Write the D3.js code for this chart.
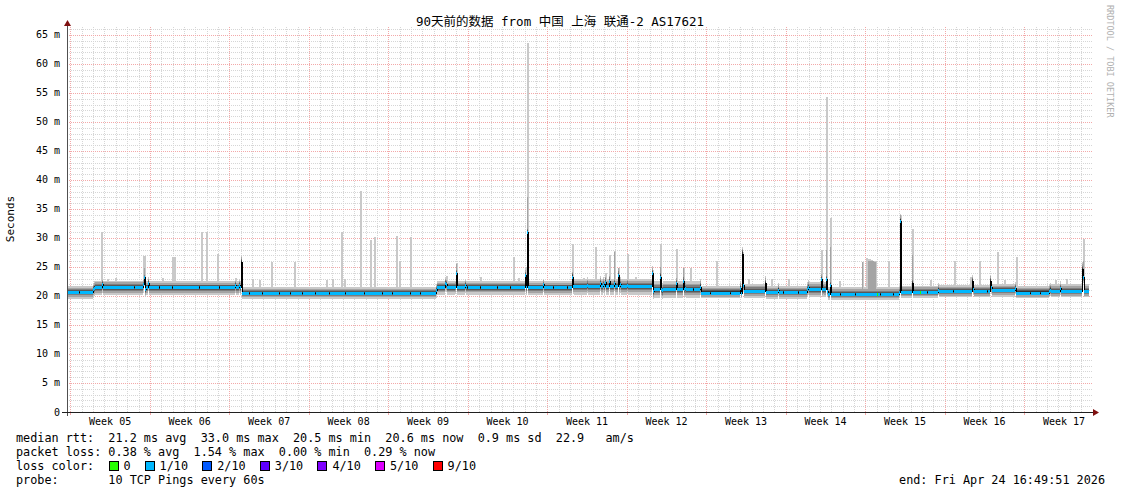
<!DOCTYPE html>
<html><head><meta charset="utf-8">
<script src="https://cdn.jsdelivr.net/npm/d3@7"></script>
<style>
body{margin:0;background:#fff}
svg{display:block}
text{font-family:"DejaVu Sans Mono","Noto Sans CJK SC",monospace;white-space:pre}
</style>
</head><body>
<svg id="c" width="1121" height="494"></svg>
<script>
// ---------------- DATA ----------------
const titleText = "90天前的数据 from 中国 上海 联通-2 AS17621";
const endText = "end: Fri Apr 24 16:49:51 2026";
const yTickValues = [0,5,10,15,20,25,30,35,40,45,50,55,60,65];
const yTickLabels = ["0","5 m","10 m","15 m","20 m","25 m","30 m","35 m","40 m","45 m","50 m","55 m","60 m","65 m"];
const weekLabels = ["Week 05","Week 06","Week 07","Week 08","Week 09","Week 10","Week 11","Week 12","Week 13","Week 14","Week 15","Week 16","Week 17"];
const rttStats = ["21.2","33.0","20.5","20.6","0.9","22.9"];
const lossStats = ["0.38","1.54","0.00","0.29"];
const lossLabels = ["0","1/10","2/10","3/10","4/10","5/10","9/10"];
const lossColors = ["#26ff00","#00b8ff","#0059ff","#5e00ff","#7e00ff","#dd00ff","#ff0000"];
const probeText = "10 TCP Pings every 60s";

// median RTT baseline segments (day offsets from start, ms)
const segEnd = [2.29,6.72,15.30,32.49,40.40,44.45,51.55,55.80,59.45,61.50,65.20,66.95,73.30,76.75,81.30,83.45,86.50,90];
const segMed = [20.74,21.6,21.5,20.5,21.55,21.5,21.65,21.2,20.6,20.9,20.65,21.15,20.35,20.7,20.85,21.0,20.6,20.85];
const segHi  = [1.0,1.05,1.0,1.1,1.05,1.0,1.3,1.3,1.1,1.2,1.1,1.3,1.2,1.1,1.1,1.1,1.1,1.2];
const segLo  = [1.25,1.5,1.4,1.05,1.3,1.3,1.4,1.5,1.0,1.2,1.1,1.3,1.0,1.0,1.1,1.1,1.0,1.1];

// median events (day, ms, loss bucket: 1 = 1/10, 0 = none lost, -1 = not coloured)
const evDay = [2.29,2.38,3.08,6.69,6.78,6.87,7.13,14.79,15.14,15.32,32.49,33.28,33.37,34.16,34.25,35.05,40.33,40.50,41.91,44.47,44.55,45.79,46.93,47.19,47.37,47.72,48.16,48.51,48.69,49.31,51.51,51.60,52.22,52.40,53.63,54.24,54.40,55.74,59.26,59.43,59.52,61.46,62.60,65.25,66.39,66.56,66.80,66.92,67.18,73.35,74.40,76.69,79.69,79.78,81.24,81.33,83.47,86.55,87.44,89.37,89.46];
const evMed = [21.2,21.45,22.0,22.0,23.2,21.2,22.2,21.9,21.9,25.9,21.0,22.2,22.0,21.6,23.9,21.9,23.6,31.0,22.0,23.3,21.7,21.9,22.2,22.0,22.4,22.6,22.2,23.6,22.0,21.9,23.9,20.9,23.3,21.0,22.2,22.6,21.3,21.6,21.4,27.3,21.9,22.3,21.1,21.5,22.9,21.2,22.9,20.9,21.9,33.0,22.2,21.1,22.5,21.2,22.6,21.5,21.3,21.1,21.3,24.6,23.3];
const evLoss = [1,1,1,1,1,1,1,1,1,-1,1,1,1,1,1,1,1,1,1,1,1,1,1,1,1,1,1,1,1,1,1,1,1,1,1,1,1,1,1,-1,1,-1,1,1,1,1,1,1,1,1,-1,1,-1,1,-1,1,1,1,1,-1,1];

// intervals where the median is drawn without a loss colour
const gapDay = [1.03,5.87,8.07,9.25,11.60,13.36,16.0,17.17,18.64,19.66,20.69,21.86,23.04,24.50,26.12,27.74,28.62,30.20,31.08,35.19,36.36,37.84,39.01,42.82,44.0,55.15,56.62,58.38,63.07,64.39,68.06,69.38,71.58,72.76,75.70,78.04,80.98,84.79,85.67];
// intervals with zero loss
const greenDay = [71.32,75.11];

// max-ping spikes (day, top of lightest smoke, top of second smoke band; 0 = normal)
const maxDay = [2.99,3.5,4.2,6.69,6.78,8.4,9.25,9.34,9.43,11.80,12.24,13.21,14.8,16.3,16.9,17.96,19.99,22.8,23.3,24.13,24.4,25.80,26.68,27.01,28.97,29.23,30.20,33.37,34.25,36.37,39.27,39.71,40.33,40.50,44.47,45.43,46.49,47.37,47.72,48.16,48.51,49.31,50.0,51.51,52.22,53.63,54.24,54.86,57.15,59.43,60.0,62.0,63.5,66.39,66.80,67.18,68.0,70.00,70.35,70.44,70.53,70.62,70.71,70.80,70.89,70.98,71.07,71.16,72.29,73.35,74.40,76.0,78.10,79.5,80.30,81.89,82.5,83.56,87.0,88.0,89.46];
const maxTop = [31.1,23.0,23.1,26.9,26.9,23.1,26.8,26.8,26.8,31.1,31.1,27.2,23.1,22.9,22.8,25.9,25.9,22.8,22.9,31.0,22.9,38.1,29.7,30.1,30.3,26.0,30.1,23.5,25.7,23.2,26.8,23.1,25.0,63.6,28.9,23.1,28.5,24.0,27.1,27.8,24.8,27.2,23.3,24.5,28.9,28.1,24.8,24.8,26.1,27.6,23.0,23.0,22.9,27.9,54.3,33.4,22.6,25.9,26.5,26.4,26.3,26.3,26.2,26.2,26.1,26.1,26.0,26.0,26.0,34.0,31.6,22.7,26.1,23.3,26.0,27.6,22.8,26.8,22.8,22.9,29.9];
const maxMid = [0,0,0,0,24.8,0,0,0,0,0,0,0,0,0,0,0,0,0,0,0,0,0,0,0,0,0,0,0,25.5,0,0,0,24.5,37.0,24.0,0,0,23.3,0,27.6,24.8,0,0,24.3,25.0,0,24.8,0,0,27.4,0,0,0,0,27.9,28.5,0,25.9,0,0,26.0,26.0,26.0,26.0,26.0,26.0,25.9,25.9,0,34.0,27.1,0,0,0,0,0,0,0,0,0,26.0];

// ---------------- CHART ----------------
const startMs = Date.UTC(2026,0,24,16,49,51);
const spanDays = 90;
const endMs = startMs + spanDays*864e5;
const X0 = 67, X1 = 1089, Y0 = 412, YT = 26;
const x = d3.scaleUtc().domain([new Date(startMs), new Date(endMs)]).range([X0, X1]);
const y = d3.scaleLinear().domain([0, 66.55]).range([Y0, YT]);
const svg = d3.select('#c');

// grid
const grid = svg.append('g').attr('shape-rendering','crispEdges');
const minorY = d3.range(1, 67).filter(v => v % 5 !== 0);
const majorY = yTickValues.filter(v => v > 0);
const days = d3.utcDay.range(new Date(startMs), new Date(endMs));
const sundays = d3.utcSunday.range(new Date(startMs), new Date(endMs));
const isSunday = d => d.getUTCDay() === 0;
const px = v => Math.round(v) + 0.5;
const minorCol = '#d6d6d6', majorCol = '#f3a9a9';

grid.selectAll('.hmin').data(minorY).join('line')
  .attr('x1', X0).attr('x2', X1 + 4).attr('y1', d => px(y(d))).attr('y2', d => px(y(d)))
  .attr('stroke', minorCol).attr('stroke-dasharray', '1,1');
grid.selectAll('.vmin').data(days.filter(d => !isSunday(d))).join('line')
  .attr('x1', d => px(x(d))).attr('x2', d => px(x(d))).attr('y1', Y0).attr('y2', YT)
  .attr('stroke', minorCol).attr('stroke-dasharray', '1,1');
grid.selectAll('.hmaj').data(majorY).join('line')
  .attr('x1', X0).attr('x2', X1 + 4).attr('y1', d => px(y(d))).attr('y2', d => px(y(d)))
  .attr('stroke', majorCol).attr('stroke-dasharray', '1,1');
grid.selectAll('.vmaj').data(sundays).join('line')
  .attr('x1', d => px(x(d))).attr('x2', d => px(x(d))).attr('y1', Y0).attr('y2', YT)
  .attr('stroke', majorCol).attr('stroke-dasharray', '1,1');

// build per-column series from the arrays above
const N = X1 - X0;
const binDays = spanDays / N;
const bins = d3.range(N).map(i => {
  const c = (i + 0.5) * binDays;
  let s = segEnd.findIndex(e => c < e); if (s < 0) s = segEnd.length - 1;
  return {i, med: segMed[s], hi: segHi[s], lo: segLo[s], top: 0, mid: 0, loss: 1};
});
const binOf = d => Math.max(0, Math.min(N - 1, Math.round(d / binDays)));
gapDay.forEach(d => { bins[binOf(d)].loss = -1; });
greenDay.forEach(d => { bins[binOf(d)].loss = 0; });
evDay.forEach((d, k) => { const b = bins[binOf(d)]; b.med = evMed[k]; b.loss = evLoss[k]; });
maxDay.forEach((d, k) => {
  const bi = binOf(d);
  [bi, Math.min(N - 1, bi + 1)].forEach(j => { bins[j].top = Math.max(bins[j].top, maxTop[k]); });
  bins[bi].mid = Math.max(bins[bi].mid, maxMid[k]);
});

const bx = i => x(new Date(startMs + i * binDays * 864e5));
const pts = bins.concat([Object.assign({}, bins[N - 1], {i: N})]);

const shades = ["#c9c9c9","#a4a4a4","#7e7e7e","#585858","#323232"];
const fHi = [1, 0.7, 0.48, 0.32, 0.18];
const fLo = [1, 0.7, 0.5, 0.34, 0.2];
const smoke = svg.append('g').attr('shape-rendering','crispEdges');
shades.forEach((col, k) => {
  const area = d3.area().curve(d3.curveStepAfter)
    .x(d => bx(d.i))
    .y0(d => y(d.med - d.lo * fLo[k]))
    .y1(d => {
      let t = d.med + d.hi * fHi[k];
      if (k === 0 && d.top) t = Math.max(t, d.top);
      if (k === 1 && d.mid) t = Math.max(t, d.mid);
      return y(Math.min(t, 66.55));
    });
  smoke.append('path').datum(pts).attr('d', area).attr('fill', col);
});

// median line
svg.append('path').datum(pts)
  .attr('d', d3.line().curve(d3.curveStepAfter).x(d => bx(d.i)).y(d => Math.round(y(d.med)) + 0.5))
  .attr('fill', 'none').attr('stroke', '#000').attr('stroke-width', 1).attr('shape-rendering','crispEdges');

// loss-coloured median band
svg.append('g').attr('shape-rendering','crispEdges').selectAll('rect')
  .data(bins.filter(b => b.loss >= 0)).join('rect')
  .attr('x', d => bx(d.i)).attr('width', d => bx(d.i + 1) - bx(d.i))
  .attr('y', d => Math.round(y(d.med)) - 1).attr('height', 3)
  .attr('fill', d => lossColors[d.loss]);

// axes
const ax = svg.append('g').attr('shape-rendering','crispEdges');
ax.append('line').attr('x1', X0 + 0.5).attr('x2', X0 + 0.5).attr('y1', Y0 + 4).attr('y2', YT - 2).attr('stroke', '#505050');
ax.append('line').attr('x1', X0 - 5).attr('x2', X1 + 5).attr('y1', Y0 + 0.5).attr('y2', Y0 + 0.5).attr('stroke', '#202020');
ax.selectAll('.tx').data(sundays).join('line')
  .attr('x1', d => px(x(d))).attr('x2', d => px(x(d))).attr('y1', Y0 + 1).attr('y2', Y0 + 3).attr('stroke', majorCol);
svg.append('path').attr('d', `M${X0 + 0.5},${YT - 6} L${X0 - 3},${YT} L${X0 + 4},${YT} Z`).attr('fill', '#7f1010');
svg.append('path').attr('d', `M${X1 + 10},${Y0 + 0.5} L${X1 + 4},${Y0 - 3} L${X1 + 4},${Y0 + 4} Z`).attr('fill', '#7f1010');

// y labels
svg.selectAll('.yl').data(yTickValues).join('text')
  .attr('x', 60).attr('y', d => y(d) + 3.5).attr('text-anchor', 'end')
  .attr('font-size', '10px').attr('fill', '#000').text((d, i) => yTickLabels[i]);
// x labels (centred mid-week)
svg.selectAll('.xl').data(sundays).join('text')
  .attr('x', d => x(new Date(+d + 3.5 * 864e5))).attr('y', 425).attr('text-anchor', 'middle')
  .attr('font-size', '10px').attr('fill', '#000').text((d, i) => weekLabels[i]);

// title & side texts
svg.append('text').attr('x', 560).attr('y', 25.5).attr('text-anchor', 'middle')
  .attr('font-size', '12.5px').attr('fill', '#000').text(titleText);
svg.append('text').attr('transform', 'translate(14,219) rotate(-90)').attr('text-anchor', 'middle')
  .attr('font-size', '11px').attr('fill', '#000').text('Seconds');
svg.append('text').attr('transform', 'translate(1107,5) rotate(90)').attr('text-anchor', 'start')
  .attr('font-size', '8.5px').attr('fill', '#b0b0b0').text('RRDTOOL / TOBI OETIKER');

// legend
const lf = '11.8px';
svg.append('text').attr('x', 16).attr('y', 442).attr('font-size', lf)
  .text(`median rtt:  ${rttStats[0]} ms avg  ${rttStats[1]} ms max  ${rttStats[2]} ms min  ${rttStats[3]} ms now  ${rttStats[4]} ms sd  ${rttStats[5]}   am/s`);
svg.append('text').attr('x', 16).attr('y', 456).attr('font-size', lf)
  .text(`packet loss: ${lossStats[0]} % avg  ${lossStats[1]} % max  ${lossStats[2]} % min  ${lossStats[3]} % now`);
svg.append('text').attr('x', 16).attr('y', 470).attr('font-size', lf).text('loss color:');
const cw = 7.2;
let pos = 13;
lossLabels.forEach((lab, k) => {
  const bxp = 15 + pos * cw;
  svg.append('rect').attr('x', bxp + 0.5).attr('y', 461.5).attr('width', 9).attr('height', 9)
    .attr('fill', lossColors[k]).attr('stroke', '#000').attr('shape-rendering','crispEdges');
  svg.append('text').attr('x', bxp + 15).attr('y', 470).attr('font-size', lf).text(lab);
  pos += 2 + lab.length + 2;
});
svg.append('text').attr('x', 16).attr('y', 484).attr('font-size', lf).text(`probe:       ${probeText}`);
svg.append('text').attr('x', 1105).attr('y', 484).attr('font-size', lf).attr('text-anchor', 'end').text(endText);
</script>
</body></html>
